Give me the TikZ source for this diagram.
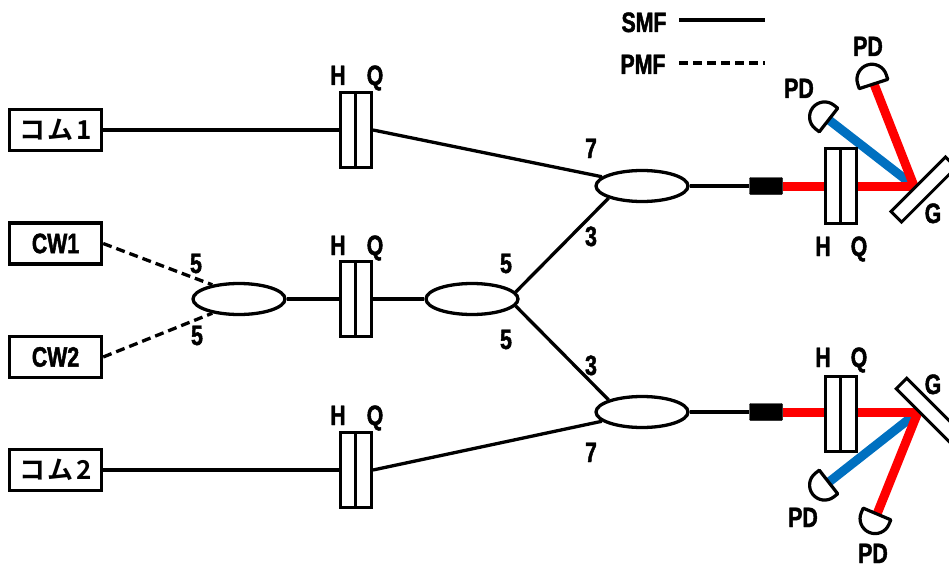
\documentclass[tikz,border=0pt]{standalone}
\usepackage{fontspec}
\setmainfont{Liberation Sans}
\newfontfamily\labfont[FakeStretch=0.76,FakeBold=1.6]{Liberation Sans Bold}
\newfontfamily\cjkfont{Noto Sans CJK JP Bold}
\tikzset{
  fibre/.style={line width=3.3pt,black},
  pmf/.style={fibre,dash pattern=on 9pt off 5pt},
  box/.style={draw,line width=3.4pt,rectangle,minimum width=92pt,minimum height=41pt,inner sep=0pt,fill=white,font=\labfont\fontsize{28}{28}\selectfont},
  plate/.style={draw,line width=3pt,rectangle,minimum width=16pt,minimum height=75pt,inner sep=0pt,fill=white},
  coupler/.style={draw,line width=3.3pt,ellipse,minimum width=92pt,minimum height=31pt,inner sep=0pt,fill=white},
  lab/.style={inner sep=0pt,text height=20pt,text depth=0pt,font=\labfont\fontsize{28}{28}\selectfont},
  coll/.style={fill=black,draw=black,rectangle,rounded corners=1pt,minimum width=33pt,minimum height=17pt,inner sep=0pt},
  grating/.style={draw,line width=3pt,rectangle,minimum width=77pt,minimum height=15pt,inner sep=0pt,fill=white},
  redbeam/.style={line width=9pt,red},
  bluebeam/.style={line width=9pt,color={rgb,255:red,0;green,112;blue,192}},
  pdshape/.style={draw,line width=3.2pt,fill=white,line join=round}
}
\usetikzlibrary{shapes.geometric}
\newcommand{\pdiode}[3]{\path[pdshape,shift={(#1,#2)},rotate=#3] (-15,0) -- (-15,-5) arc (180:360:15) -- (15,0) -- cycle;}
\newcommand{\combname}[1]{\cjkfont\fontsize{26}{26}\selectfont コ\hspace{2pt}ム\hspace{3pt}#1}
\begin{document}
\begin{tikzpicture}[x=1pt,y=-1pt]
\useasboundingbox (0,0) rectangle (949,567);
\clip (0,0) rectangle (949,567);
% sources
\node[box] (comb1) at (55.5,130) {\combname{1}};
\node[box] (cw1) at (55.5,243.5) {CW1};
\node[box] (cw2) at (55.5,357) {CW2};
\node[box] (comb2) at (55.5,470) {\combname{2}};
% plates
\node[plate] (h1) at (348,130) {};
\node[plate] (q1) at (363.5,130) {};
\node[plate] (h2) at (348,299) {};
\node[plate] (q2) at (363.5,299) {};
\node[plate] (h3) at (348,470) {};
\node[plate] (q3) at (363.5,470) {};
% couplers
\node[coupler] (c1) at (239,299) {};
\node[coupler] (c2) at (472,299) {};
\node[coupler] (c3) at (642,186) {};
\node[coupler] (c4) at (642,412) {};
% fibres
\draw[pmf] (cw1.east) -- (c1.152);
\draw[pmf] (cw2.east) -- (c1.208);
\draw[fibre] (comb1.east) -- (h1.west);
\draw[fibre] (comb2.east) -- (h3.west);
\draw[fibre] (c1.east) -- (h2.west);
\draw[fibre] (q2.east) -- (c2.west);
\draw[fibre] (q1.east) -- (c3.167);
\draw[fibre] (q3.east) -- (c4.193);
\draw[fibre] (c2.9) -- (c3.200);
\draw[fibre] (c2.351) -- (c4.160);
% outputs
\node[coll] (col1) at (766,186) {};
\node[coll] (col2) at (766,412) {};
\draw[fibre] (c3.east) -- (col1.west);
\draw[fibre] (c4.east) -- (col2.west);
\coordinate (s1) at (914,186);
\coordinate (s2) at (918,412);
\coordinate (pa) at (829,120);
\coordinate (pb) at (874,84);
\coordinate (pc) at (829,482);
\coordinate (pd) at (877,514);
\draw[bluebeam] (s1) -- (pa);
\draw[redbeam] (s1) -- (pb);
\draw[redbeam] (col1.east) -- (s1);
\draw[bluebeam] (s2) -- (pc);
\draw[redbeam] (s2) -- (pd);
\draw[redbeam] (col2.east) -- (s2);
\node[plate] (h4) at (833,186) {};
\node[plate] (q4) at (848.5,186) {};
\node[plate] (h5) at (833,413.5) {};
\node[plate] (q5) at (848.5,413.5) {};
\node[grating,rotate=45] (g1) at (923.5,189.5) {};
\node[grating,rotate=-45] (g2) at (928.7,410.7) {};
\pdiode{873.5}{84}{18}
\pdiode{828.5}{120}{52}
\pdiode{828.5}{482}{128}
\pdiode{877}{514}{157}
% labels
\foreach \x/\t/\px/\py in {a/H/338/75,b/Q/375/75,c/H/338/245,d/Q/375/245,e/H/338/415,f/Q/375/415,g/H/823/246,h/Q/859/246,i/H/823/357,j/Q/859/357,k/G/933/213,l/G/933/384,m/PD/868/46,n/PD/799/88,o/PD/803/517,p/PD/873/553,q/7/591/148,r/3/591/236,s/5/506/263,t/5/506/339,u/3/591/365,v/7/591/452,w/5/196/263,y/5/197/335}
  \node[lab] (lab\x) at (\px,\py) {\t};
% legend
\node[lab] (smf) at (644,22) {SMF};
\node[lab] (pmfl) at (643,64) {PMF};
\coordinate (s1a) at (679,20);
\coordinate (s1b) at (765,20);
\coordinate (p1a) at (679,63);
\coordinate (p1b) at (765,63);
\draw[fibre] (s1a) -- (s1b);
\draw[pmf] (p1a) -- (p1b);
\end{tikzpicture}
\end{document}
